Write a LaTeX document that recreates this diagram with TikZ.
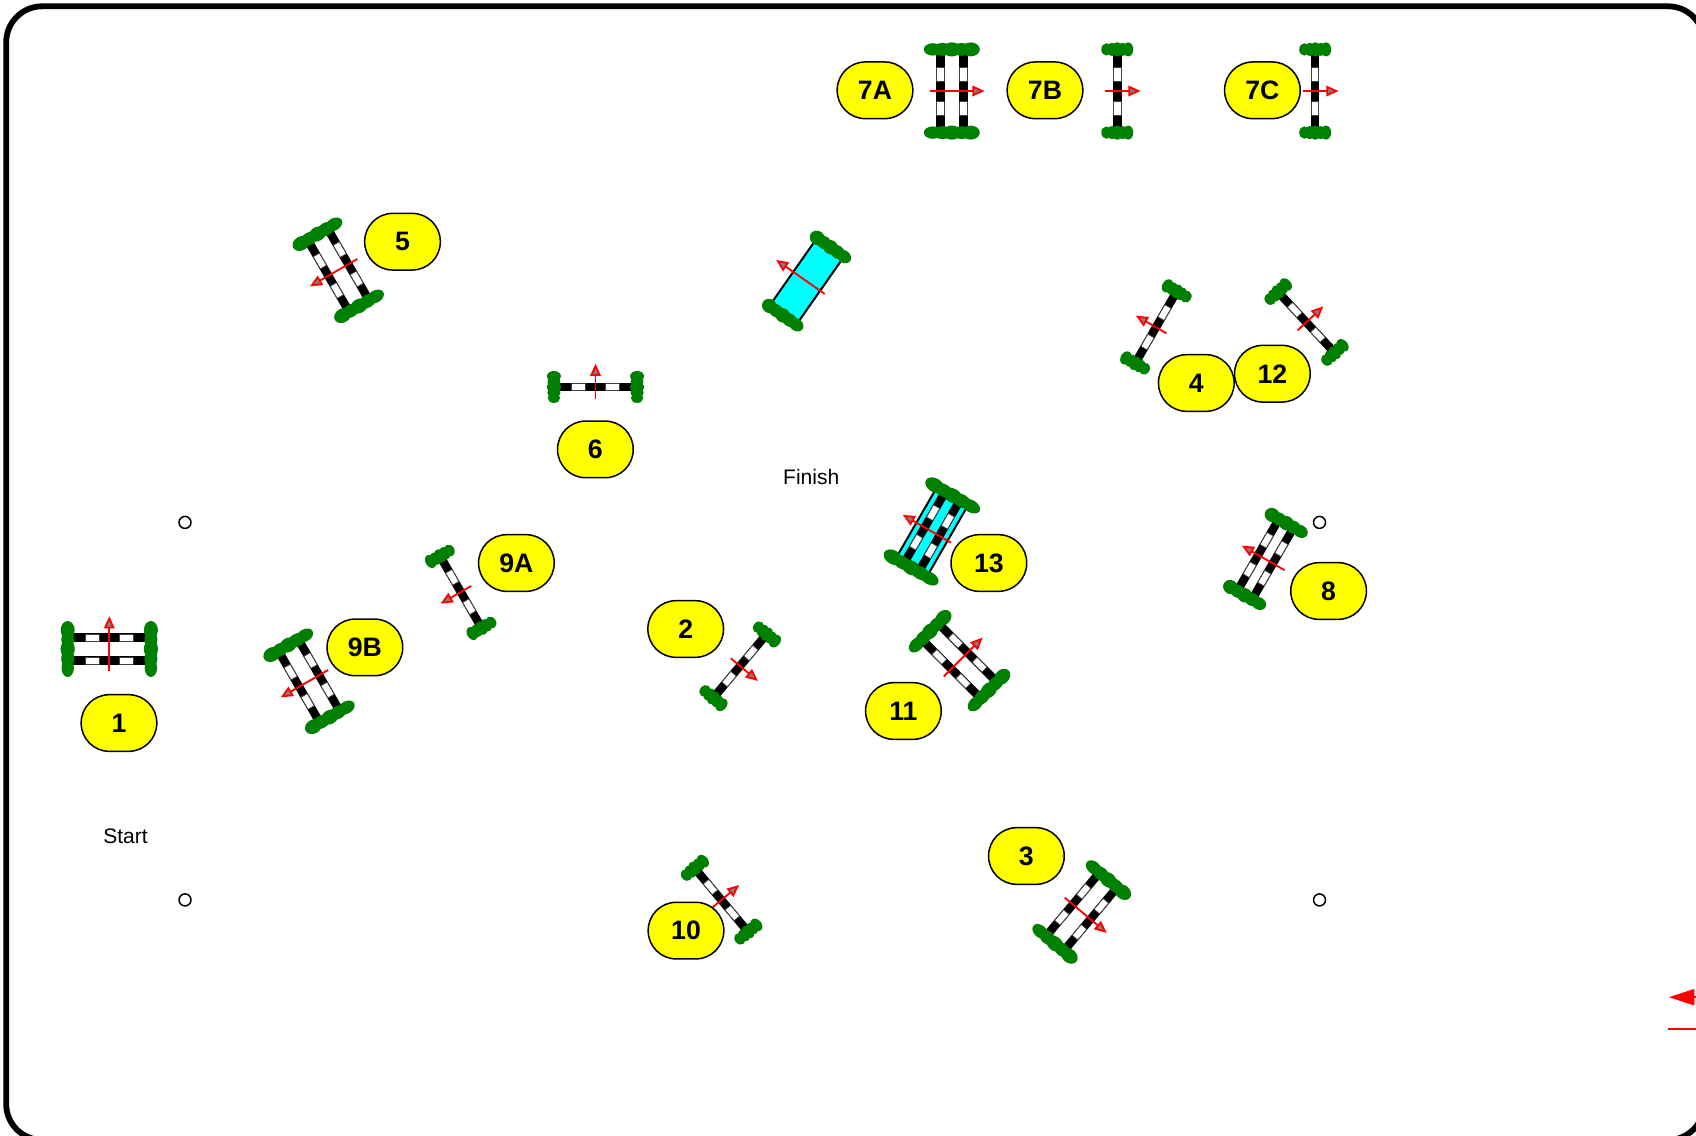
\documentclass[tikz,border=0pt]{standalone}
\usepackage{fontspec}
\setmainfont{Liberation Sans}
\definecolor{wingGreen}{RGB}{0,128,0}
\definecolor{arrowRed}{RGB}{255,0,0}
\definecolor{headGrey}{RGB}{128,128,128}
\definecolor{waterCyan}{RGB}{0,255,255}
\definecolor{numYellow}{RGB}{255,255,0}
\tikzset{
  numlabel/.style={draw=black,fill=numYellow,line width=0.9pt,rectangle,rounded corners=16.9pt,
    minimum width=45.4pt,minimum height=34pt,inner sep=0pt,font=\fontsize{16}{18}\selectfont\bfseries},
  plaintext/.style={font=\fontsize{12.6}{15}\selectfont,inner sep=0pt},
  post/.style={draw=black,fill=white,line width=0.9pt,circle,minimum size=7.2pt,inner sep=0pt},
  wingblob/.style={fill=wingGreen,draw=none},
  barblack/.style={fill=black,draw=none},
  barwhite/.style={fill=white,draw=black!75,line width=0.45pt},
  dirline/.style={draw=arrowRed,line width=1.1pt},
  dirhead/.style={draw=arrowRed,fill=headGrey,line width=1.1pt,line join=miter},
  waterrect/.style={fill=waterCyan,draw=none},
  wateredge/.style={draw=black,line width=1.2pt},
  frameline/.style={draw=black,line width=3.5pt},
  legendhead/.style={fill=arrowRed,draw=none},
  legendline/.style={draw=arrowRed,line width=1.2pt},
}
% one rail across at local height #1
\newcommand{\fencerail}[1]{%
  \path[barblack] (-38.5,#1-4.2) rectangle (38.5,#1+4.2);
  \path[barwhite] (-24,#1-3.6) rectangle (-10,#1+3.6);
  \path[barwhite] (10,#1-3.6) rectangle (24,#1+3.6);
}
% wings with half span #1
\newcommand{\spanwings}[1]{%
  \pgfmathsetmacro{\wry}{#1/3.1}
  \pgfmathsetmacro{\wc}{#1-\wry}
  \foreach \sx in {-41.6,41.6}{
    \foreach \k/\wrx in {-1/7.0,-0.5/6.4,0/7.1,0.5/6.5,1/6.2}{
      \fill[wingblob] (\sx,{\k*\wc}) ellipse [x radius=\wrx,y radius=\wry];
    }
  }
}
% direction arrow from local height #1 (tail) to #2 (tip)
\newcommand{\dirarrow}[2]{%
  \draw[dirline] (0,#1) -- (0,#2+9);
  \draw[dirhead] (0,#2+2) -- (4.1,#2+11) -- (-4.1,#2+11) -- cycle;
}
\tikzset{
  pics/singlefence/.style={code={\fencerail{0}\spanwings{16}\dirarrow{12}{-23}}},
  pics/doublefence/.style={code={\fencerail{-11.5}\fencerail{11.5}\spanwings{28}\dirarrow{22}{-32.5}}},
  pics/narrowfence/.style={code={\fencerail{-8.5}\fencerail{8.5}\spanwings{24}\dirarrow{22}{-27}}},
  pics/waterjump/.style={code={
    \path[waterrect] (-38,-16.4) rectangle (38,16.4);
    \draw[wateredge] (-38,-16.4) -- (38,-16.4);
    \draw[wateredge] (-38,16.4) -- (38,16.4);
    \spanwings{24}\dirarrow{22}{-37}}},
  pics/waterfence/.style={code={
    \path[waterrect] (-38,-18) rectangle (38,18);
    \draw[wateredge] (-38,-18) -- (38,-18);
    \draw[wateredge] (-38,18) -- (38,18);
    \fencerail{-8.5}\fencerail{8.5}\spanwings{31}\dirarrow{22}{-33.5}}},
}
\begin{document}
\begin{tikzpicture}[x=0.6pt,y=-0.6pt]
\useasboundingbox (0,0) rectangle (1696,1136);
\begin{scope}
\clip (0,0) rectangle (1696,1136);
\draw[frameline,rounded corners=21.6pt] (6.2,6.3) rectangle (1704,1140);
\path[legendhead] (1669,997.2) -- (1694.3,988.9) -- (1694.3,1005.5) -- cycle;
\draw[legendline] (1694.3,997.2) -- (1696,997.2);
\draw[legendline] (1668,1028.5) -- (1696,1028.5);
\end{scope}

% jumps
\pic[rotate=0] (j1) at (109.3,649) {doublefence};
\pic[rotate=-130] (j2) at (740,666) {singlefence};
\pic[rotate=-130] (j3) at (1081.6,911.8) {doublefence};
\pic[rotate=60] (j4) at (1156,327.3) {singlefence};
\pic[rotate=120] (j5) at (338.3,270) {doublefence};
\pic[rotate=0] (j6) at (595.5,387) {singlefence};
\pic[rotate=-90] (j7a) at (951.8,91) {doublefence};
\pic[rotate=-90] (j7b) at (1117.3,91) {singlefence};
\pic[rotate=-90] (j7c) at (1315.2,91) {singlefence};
\pic[rotate=60] (j8) at (1265.5,559.2) {narrowfence};
\pic[rotate=120] (j9a) at (460.8,592) {singlefence};
\pic[rotate=120] (j9b) at (309.1,681) {doublefence};
\pic[rotate=-50] (j10) at (721.4,900) {singlefence};
\pic[rotate=-45] (j11) at (959.4,660.8) {doublefence};
\pic[rotate=-47] (j12) at (1306.3,322.3) {singlefence};
\pic[rotate=60] (j13) at (932,531.7) {waterfence};
\pic[rotate=55] (jw) at (806.7,281.3) {waterjump};

% numbers
\node[numlabel] (n1) at (119,723) {1};
\node[numlabel] (n2) at (685.7,629) {2};
\node[numlabel] (n3) at (1026.4,856) {3};
\node[numlabel] (n4) at (1196.3,383) {4};
\node[numlabel] (n5) at (402.5,241.7) {5};
\node[numlabel] (n6) at (595.4,449.4) {6};
\node[numlabel] (n7a) at (875,90.3) {7A};
\node[numlabel] (n7b) at (1045,90.3) {7B};
\node[numlabel] (n7c) at (1262.4,90.3) {7C};
\node[numlabel] (n8) at (1328.6,591) {8};
\node[numlabel] (n9a) at (516.4,563) {9A};
\node[numlabel] (n9b) at (364.9,647.4) {9B};
\node[numlabel] (n10) at (686,930.6) {10};
\node[numlabel] (n11) at (903.4,711) {11};
\node[numlabel] (n12) at (1272.4,373.7) {12};
\node[numlabel] (n13) at (988.9,563) {13};

% posts
\node[post] (p1) at (185,522.4) {};
\node[post] (p2) at (1319.5,522.4) {};
\node[post] (p3) at (185,899.9) {};
\node[post] (p4) at (1319.5,899.9) {};

\node[plaintext] (finish) at (811.2,477) {Finish};
\node[plaintext] (start) at (125.5,836) {Start};
\end{tikzpicture}
\end{document}
